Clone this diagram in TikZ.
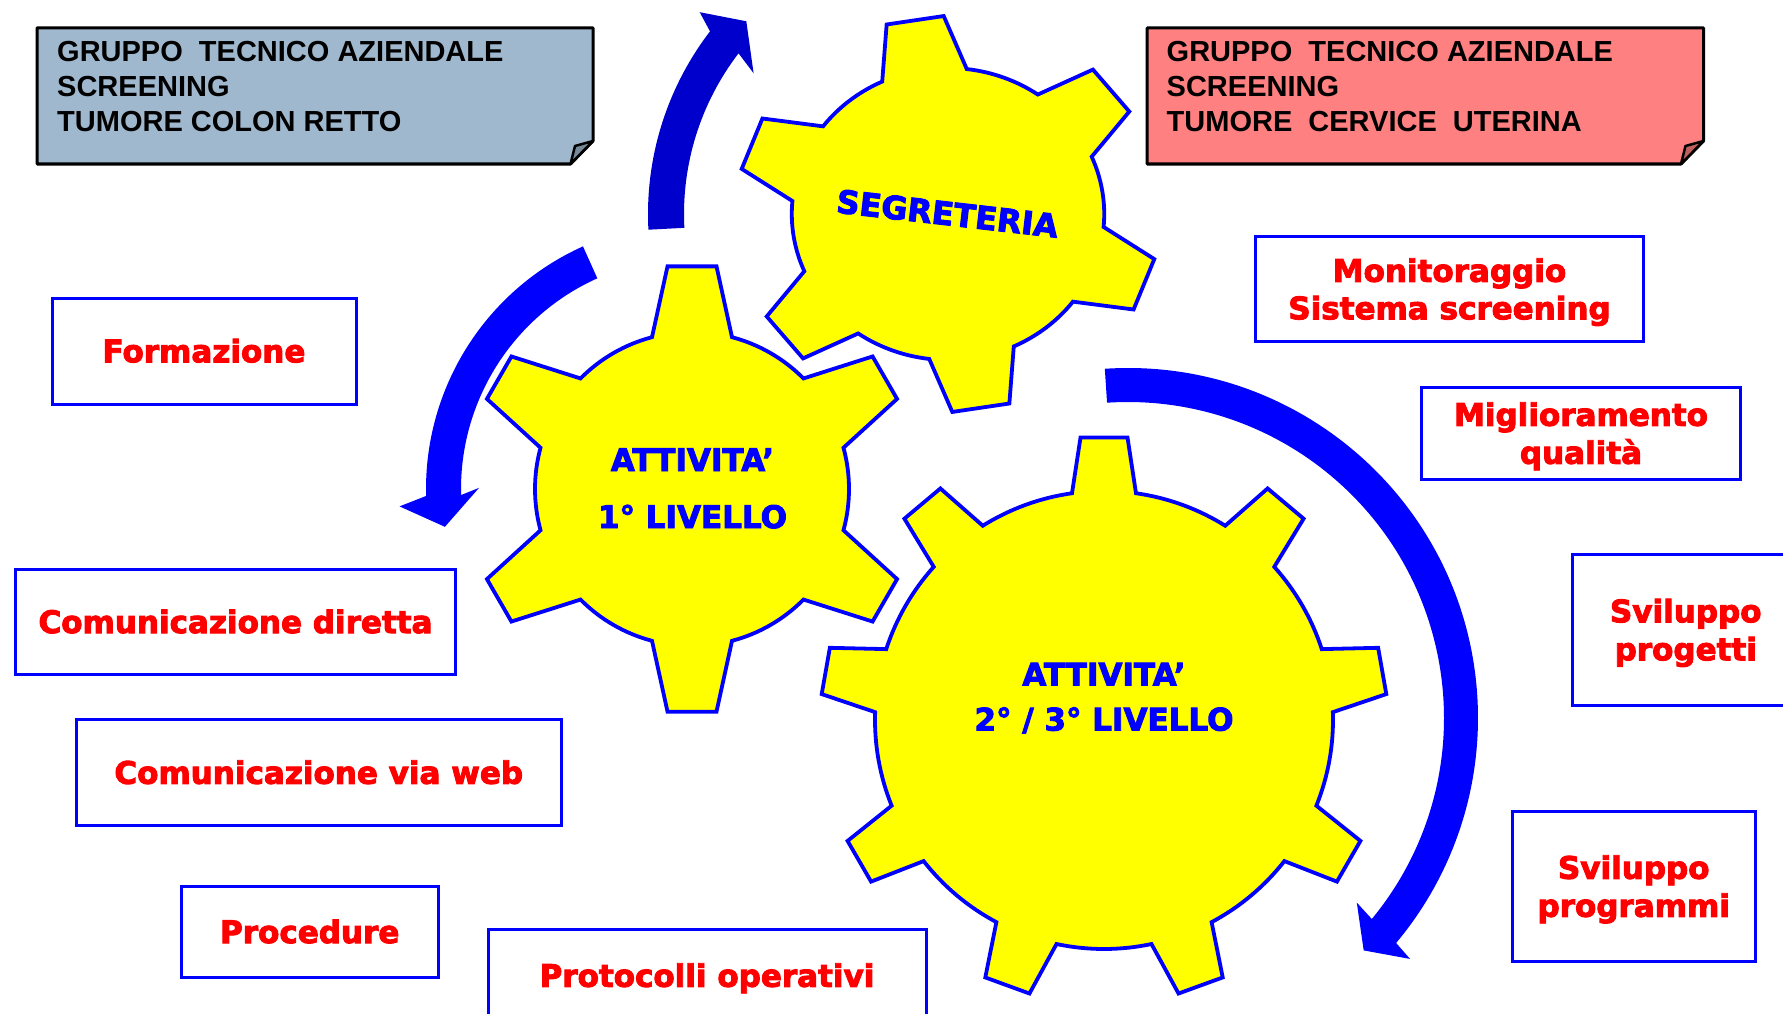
\documentclass[tikz,border=0pt]{standalone}
\usepackage{fontspec}
\newfontfamily\notefont{Liberation Sans}
\newfontfamily\heavyfont{DejaVu Sans}[UprightFont={* Bold}, FakeBold=3]
\definecolor{gearyellow}{RGB}{255,255,0}
\definecolor{lineblue}{RGB}{0,0,255}
\definecolor{darkarrow}{RGB}{0,0,204}
\definecolor{textred}{RGB}{255,0,0}
\definecolor{notegrey}{RGB}{160,184,206}
\definecolor{notepink}{RGB}{255,128,128}
\newcommand{\gearshape}[6]{%
  \pgfmathsetmacro{\gstep}{360/#1}%
  \pgfmathsetmacro{\gbb}{asin(#5/#3)}%
  \pgfmathsetmacro{\gbt}{asin(#6/#4)}%
  \pgfmathtruncatemacro{\glast}{#1-1}%
  \path[gearbody] ({#2-\gbb}:#3)
    \foreach \k in {0,...,\glast} {
      -- ({#2+\k*\gstep-\gbt}:#4) -- ({#2+\k*\gstep+\gbt}:#4) -- ({#2+\k*\gstep+\gbb}:#3)
      arc[start angle={#2+\k*\gstep+\gbb}, end angle={#2+(\k+1)*\gstep-\gbb}, radius=#3]
    } -- cycle;
}
\tikzset{
  gearbody/.style={fill=gearyellow, draw=lineblue, line width=3.8pt, line join=miter},
  boxframe/.style={draw=lineblue, line width=3pt, inner sep=0pt, outer sep=0pt, rectangle},
  redtext/.style={text=textred, inner sep=0pt, text height=22.6pt, text depth=0pt,
    font={\heavyfont\fontsize{31pt}{37pt}\selectfont}},
  geartext/.style={text=lineblue, inner sep=0pt, anchor=base,
    font={\heavyfont\fontsize{31pt}{37pt}\selectfont}},
  notetext/.style={text=black, inner sep=0pt, anchor=base west,
    font={\notefont\bfseries\fontsize{29pt}{35pt}\selectfont}},
  noteframe/.style={draw=black, line width=3pt, line join=round},
  flapframe/.style={draw=black, line width=2.5pt, line join=round},
}
\begin{document}
\begin{tikzpicture}[x=1pt, y=-1pt]
\useasboundingbox (0,0) rectangle (1783,1014);
\clip (0,0) rectangle (1783,1014);
\fill[white] (0,0) rectangle (1783,1014);

% sticky notes
\path[noteframe, fill=notegrey] (37,28) -- (593,28) -- (593,141) -- (570.5,164) -- (37,164) -- cycle;
\path[flapframe, fill=notegrey!75!black] (570.5,164) -- (575,146) -- (593,141) -- cycle;
\node[notetext] (n1a) at (57,61.5) {GRUPPO\ \ TECNICO AZIENDALE};
\node[notetext] (n1b) at (57,96.5) {SCREENING};
\node[notetext] (n1c) at (57,131.5) {TUMORE COLON RETTO};

\path[noteframe, fill=notepink] (1147,28) -- (1703.5,28) -- (1703.5,141) -- (1681,164) -- (1147,164) -- cycle;
\path[flapframe, fill=notepink!75!black] (1681,164) -- (1685.5,146) -- (1703.5,141) -- cycle;
\node[notetext] (n2a) at (1166.5,61.5) {GRUPPO\ \ TECNICO AZIENDALE};
\node[notetext] (n2b) at (1166.5,96.5) {SCREENING};
\node[notetext] (n2c) at (1166.5,131.5) {TUMORE\ \ CERVICE\ \ UTERINA};

% gears
\coordinate (g2) at (948,214);
\coordinate (g1) at (692,489);
\coordinate (g3) at (1104,720);
\begin{scope}[shift={(g2)}, xscale=1.07]
  \gearshape{6}{-99}{146}{198}{40}{27}
\end{scope}
\begin{scope}[shift={(g1)}]
  \gearshape{6}{-90}{157}{224}{40}{24.5}
\end{scope}
\begin{scope}[shift={(g3)}]
  \gearshape{9}{-90}{229}{283.5}{32}{23.5}
\end{scope}

% curved arrows
\begin{scope}[shift={(g2)}]
  \fill[darkarrow] (177:300) arc[start angle=177, end angle=217.5, radius=300]
    -- (219.1:320) -- (223.7:279) -- (215.9:240) -- (217.5:264)
    arc[start angle=217.5, end angle=177, radius=264] -- cycle;
\end{scope}
\begin{scope}[shift={(g1)}]
  \fill[lineblue] (245.8:266) arc[start angle=245.8, end angle=178.5, radius=266]
    -- (176.6:293) -- (171.3:250) -- (180.3:213) -- (178.5:231)
    arc[start angle=178.5, end angle=245.8, radius=231] -- cycle;
\end{scope}
\begin{scope}[shift={(1128,718)}]
  \fill[lineblue] (-93.8:350) arc[start angle=-93.8, end angle=40, radius=350]
    -- (40.5:371) -- (44.6:331) -- (38.9:294) -- (39.5:316)
    arc[start angle=39.5, end angle=-93.8, radius=316] -- cycle;
\end{scope}

% gear labels
\node[geartext, anchor=center, text height=23.3pt, text depth=0pt, rotate=-6.5,
  font={\heavyfont\fontsize{32pt}{38pt}\selectfont}] (segr) at (947.5,213.5) {SEGRETERIA};
\node[geartext] (l1a) at (692.5,471) {ATTIVITA’};
\node[geartext] (l1b) at (692.5,528) {1° LIVELLO};
\node[geartext] (l3a) at (1104,685.5) {ATTIVITA’};
\node[geartext] (l3b) at (1104,730.5) {2° / 3° LIVELLO};

% boxes
\node[boxframe, minimum width=304pt, minimum height=106pt] (formbox) at (204,351) {};
\node[boxframe, minimum width=440pt, minimum height=105.5pt] (dirbox) at (235.5,621.75) {};
\node[boxframe, minimum width=485.5pt, minimum height=106pt] (webbox) at (318.75,772.5) {};
\node[boxframe, minimum width=256.5pt, minimum height=91.5pt] (procbox) at (309.75,931.75) {};
\node[boxframe, minimum width=438pt, minimum height=93pt] (protbox) at (707,975.5) {};
\node[boxframe, minimum width=388pt, minimum height=105pt] (monbox) at (1449.5,289) {};
\node[boxframe, minimum width=319pt, minimum height=92pt] (migbox) at (1581,433.5) {};
\node[boxframe, minimum width=226.5pt, minimum height=150.5pt] (progbox) at (1685.75,629.75) {};
\node[boxframe, minimum width=242.5pt, minimum height=150pt] (prgmbox) at (1633.75,886.5) {};

\node[redtext] (formtxt) at (formbox.center) {Formazione};
\node[redtext] (dirtxt) at (dirbox.center) {Comunicazione diretta};
\node[redtext] (webtxt) at (webbox.center) {Comunicazione via web};
\node[redtext] (proctxt) at (procbox.center) {Procedure};
\node[redtext] (prottxt) at (protbox.center) {Protocolli operativi};
\node[redtext] (mon1) at (1449.5,270.5) {Monitoraggio};
\node[redtext] (mon2) at (1449.5,308) {Sistema screening};
\node[redtext] (mig1) at (1581,414.5) {Miglioramento};
\node[redtext] (mig2) at (1581,452.5) {qualità};
\node[redtext] (prog1) at (1685.75,611) {Sviluppo};
\node[redtext] (prog2) at (1685.75,649) {progetti};
\node[redtext] (prgm1) at (1633.75,867.5) {Sviluppo};
\node[redtext] (prgm2) at (1633.75,905.5) {programmi};
\end{tikzpicture}
\end{document}
